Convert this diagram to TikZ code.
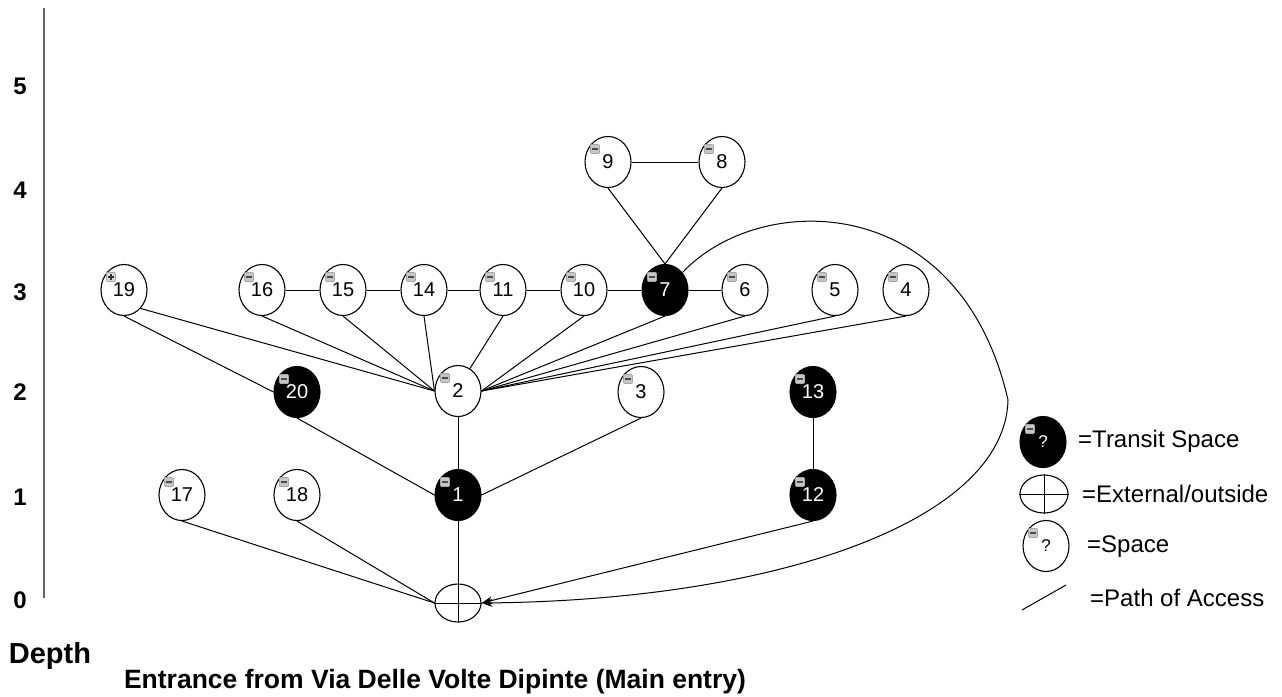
\documentclass[tikz,border=0pt]{standalone}
\usepackage{fontspec}
\setmainfont{Liberation Sans}
\usetikzlibrary{shapes.geometric,arrows.meta,calc}
\begin{document}
\begin{tikzpicture}[x=1pt,y=-1pt,
  sp/.style={ellipse,draw,line width=1.1pt,minimum width=46pt,minimum height=51pt,inner sep=0pt,fill=white,font=\fontsize{20}{20}\selectfont},
  tr/.style={sp,fill=black,text=white},
  extn/.style={ellipse,draw,line width=1.1pt,minimum width=46pt,minimum height=38pt,inner sep=0pt},
  edge/.style={line width=1pt},
  arr/.style={line width=1pt,-{Stealth[length=11pt,width=8pt]}},
  mbox/.style={rectangle,rounded corners=1pt,minimum size=9pt,inner sep=0pt,fill=gray!45,draw=gray!70,line width=0.6pt,
    path picture={\draw[black!70,line width=1.6pt] ([xshift=-3.2pt]path picture bounding box.center) -- ([xshift=3.2pt]path picture bounding box.center);}},
  pbox/.style={rectangle,rounded corners=1pt,minimum size=9pt,inner sep=0pt,fill=gray!30,draw=gray!70,line width=0.6pt,
    path picture={\draw[black!80,line width=1.1pt] ([xshift=-3.2pt]path picture bounding box.center) -- ([xshift=3.2pt]path picture bounding box.center)
      ([yshift=-3.2pt]path picture bounding box.center) -- ([yshift=3.2pt]path picture bounding box.center);}},
  dlab/.style={font=\bfseries\fontsize{24}{24}\selectfont},
  legtext/.style={anchor=west,font=\fontsize{24}{24}\selectfont,inner sep=0pt}
]
\useasboundingbox (0,0) rectangle (1282,696);

% depth axis
\coordinate (axt) at (44,8);
\coordinate (axb) at (44,598);
\draw[black!60,line width=1.6pt] (axt) -- (axb);
\node[dlab] (d5) at (20,86) {5};
\node[dlab] (d4) at (20,190) {4};
\node[dlab] (d3) at (20,292) {3};
\node[dlab] (d2) at (20,392) {2};
\node[dlab] (d1) at (20,497) {1};
\node[dlab] (d0) at (20,600) {0};
\node[font=\bfseries\fontsize{29}{29}\selectfont] (depth) at (50,656) {Depth};
\node[font=\bfseries\fontsize{26.5}{26.5}\selectfont] (title) at (435,682) {Entrance from Via Delle Volte Dipinte (Main entry)};

% nodes
\node[sp] (n9) at (608,162) {9};
\node[sp] (n8) at (722,162) {8};
\node[sp] (n19) at (124,290) {19};
\node[sp] (n16) at (262,290) {16};
\node[sp] (n15) at (343,290) {15};
\node[sp] (n14) at (424,290) {14};
\node[sp] (n11) at (503,290) {11};
\node[sp] (n10) at (584,290) {10};
\node[tr] (n7) at (665,290) {7};
\node[sp] (n6) at (745,290) {6};
\node[sp] (n5) at (835,290) {5};
\node[sp] (n4) at (906,290) {4};
\node[tr] (n20) at (297,392) {20};
\node[sp] (n2) at (458,391) {2};
\node[sp] (n3) at (641,392) {3};
\node[tr] (n13) at (813,392) {13};
\node[sp] (n17) at (182,495) {17};
\node[sp] (n18) at (297,495) {18};
\node[tr] (n1) at (458,495) {1};
\node[tr] (n12) at (813,495) {12};
\node[extn] (ext) at (458,603) {};
\draw[edge] (ext.west) -- (ext.east);

% small boxes
\foreach \n in {n9,n8,n16,n15,n14,n11,n10,n7,n6,n5,n4,n20,n2,n3,n13,n17,n18,n1,n12}
  \node[mbox] at ([shift={(-13,-13)}]\n.center) {};
\node[pbox] at ([shift={(-13,-13)}]n19.center) {};

% edges
\draw[edge] (n9) -- (n8);
\draw[edge] (n9.south) -- (n7.north);
\draw[edge] (n8.south) -- (n7.north);
\draw[edge] (n16) -- (n15);
\draw[edge] (n15) -- (n14);
\draw[edge] (n14) -- (n11);
\draw[edge] (n11) -- (n10);
\draw[edge] (n10) -- (n7);
\draw[edge] (n7) -- (n6);
\draw[edge] (n19.-48) -- (n2.west);
\draw[edge] (n19.south) -- (n20.west);
\draw[edge] (n16.south) -- (n2.west);
\draw[edge] (n15.south) -- (n2.west);
\draw[edge] (n14.south) -- (n2.west);
\draw[edge] (n11.south) -- (n2.62);
\draw[edge] (n10.south) -- (n2.east);
\draw[edge] (n7.south) -- (n2.east);
\draw[edge] (n6.south) -- (n2.east);
\draw[edge] (n5.south) -- (n2.east);
\draw[edge] (n4.south) -- (n2.east);
\draw[edge] (n2.south) -- (n1.north);
\draw[edge] (n20.south) -- (n1.west);
\draw[edge] (n3.south) -- (n1.east);
\draw[edge] (n13.south) -- (n12.north);
\draw[edge] (n1.south) -- (ext.south);
\draw[edge] (n17.south) -- (ext.west);
\draw[edge] (n18.south) -- (ext.west);
\draw[arr] (n12.south) -- (ext.east);
\draw[arr] (n7.45) .. controls (760,190) and (960,190) .. (1008,400)
  .. controls (1005,520) and (780,600) .. (ext.east);

% legend
\node[tr] (lt) at (1043,442) {\fontsize{17}{17}\selectfont ?};
\node[mbox] at ([shift={(-13,-13)}]lt.center) {};
\node[legtext] (ltt) at (1078,441) {=Transit Space};
\node[extn,minimum width=48pt,minimum height=38pt] (le) at (1044,494) {};
\draw[edge] (le.west) -- (le.east) (le.north) -- (le.south);
\node[legtext] (let) at (1082,494) {=External/outside};
\node[sp] (ls) at (1046,546) {\fontsize{17}{17}\selectfont ?};
\node[mbox] at ([shift={(-13,-13)}]ls.center) {};
\node[legtext] (lst) at (1087,547) {=Space};
\coordinate (lpa) at (1022,610);
\coordinate (lpb) at (1066,585);
\draw[edge] (lpa) -- (lpb);
\node[legtext] (lpt) at (1090,598) {=Path of Access};
\end{tikzpicture}
\end{document}
